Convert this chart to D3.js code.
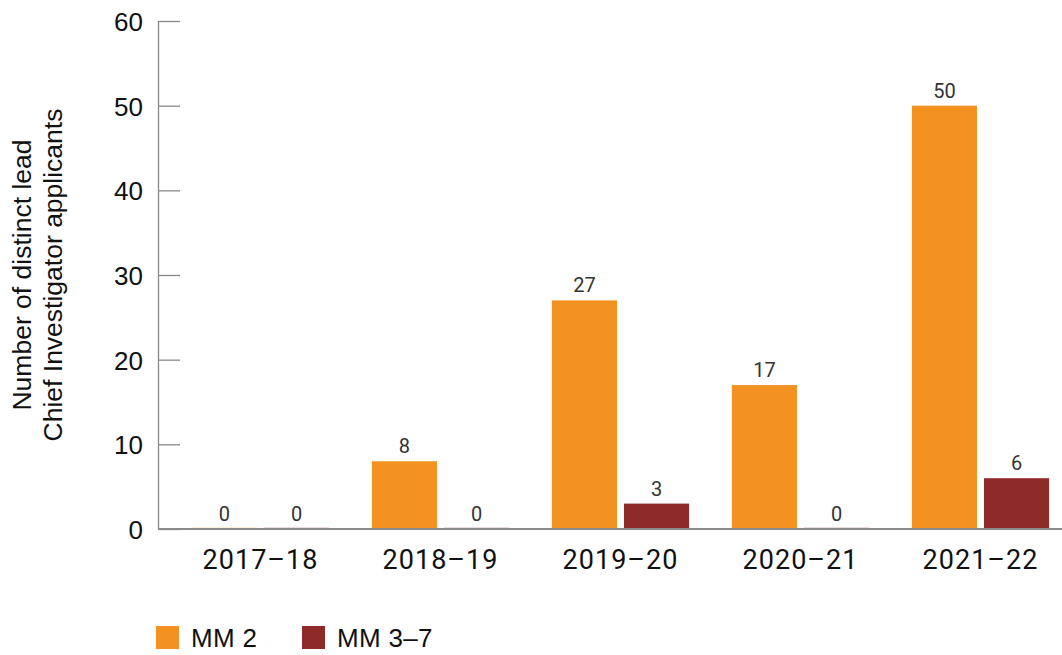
<!DOCTYPE html>
<html>
<head>
<meta charset="utf-8">
<script src="https://cdn.jsdelivr.net/npm/d3@7"></script>
<style>
  body { margin: 0; background: #fff; }
  svg { display: block; }
  .axis text { font-family: "Liberation Sans", Arial, sans-serif; font-size: 26px; fill: #111; }
  .cat { font-family: Roboto, "Liberation Sans", sans-serif; font-size: 27px; letter-spacing: 1px; fill: #111; }
  .val { font-family: Roboto, "Liberation Sans", sans-serif; font-size: 20px; fill: #333; }
  .legend text { font-family: "Liberation Sans", Arial, sans-serif; font-size: 26px; letter-spacing: 0.3px; fill: #111; }
  .ytitle { font-family: "Liberation Sans", Arial, sans-serif; font-size: 26.5px; fill: #111; }
</style>
</head>
<body>
<svg width="1062" height="655"></svg>
<script>
// data
var years = ["2017\u201318", "2018\u201319", "2019\u201320", "2020\u201321", "2021\u201322"];
var seriesNames = ["MM 2", "MM 3\u20137"];
var mm2 = [0, 8, 27, 17, 50];
var mm37 = [0, 0, 3, 0, 6];
var yTicks = [0, 10, 20, 30, 40, 50, 60];
var colors = ["#f39220", "#8e2a27"];

var svg = d3.select("svg"),
    width = 1062,
    height = 655;

var plotLeft = 158, plotBottom = 529, plotTop = 21;

var y = d3.scaleLinear().domain([0, 60]).range([plotBottom, plotTop]);

var x0 = d3.scaleBand()
    .domain(years)
    .range([170.5, 1070.5])
    .paddingInner(0.238)
    .paddingOuter(0.119);

var x1 = d3.scaleBand()
    .domain(seriesNames)
    .range([0, x0.bandwidth()])
    .paddingInner(0.097);

var rows = years.map(function(yr, i) {
  return { year: yr, values: [mm2[i], mm37[i]] };
});

// y axis
var yAxis = svg.append("g")
    .attr("class", "axis")
    .attr("transform", "translate(" + plotLeft + ",0)")
    .call(d3.axisLeft(y).tickValues(yTicks).tickSize(-22).tickSizeOuter(0).tickPadding(15));
yAxis.select(".domain").attr("stroke", "#888").attr("stroke-width", 1.3);
yAxis.selectAll(".tick line").attr("stroke", "#888").attr("stroke-width", 1.3);
yAxis.selectAll(".tick text").attr("dy", "0.36em");

// bars
var groups = svg.append("g").selectAll("g")
    .data(rows)
    .enter().append("g")
    .attr("transform", function(d) { return "translate(" + x0(d.year) + ",0)"; });

groups.selectAll("rect")
    .data(function(d) { return d.values.map(function(v, j) { return { key: seriesNames[j], value: v, idx: j }; }); })
    .enter().append("rect")
    .attr("x", function(d) { return x1(d.key); })
    .attr("width", x1.bandwidth())
    .attr("y", function(d) { return d.value > 0 ? y(d.value) : y(0) - 1.5; })
    .attr("height", function(d) { return d.value > 0 ? y(0) - y(d.value) : 1.5; })
    .attr("fill", function(d) { return colors[d.idx]; })
    .attr("opacity", function(d) { return d.value > 0 ? 1 : 0.35; });

groups.selectAll("text")
    .data(function(d) { return d.values.map(function(v, j) { return { key: seriesNames[j], value: v }; }); })
    .enter().append("text")
    .attr("class", "val")
    .attr("text-anchor", "middle")
    .attr("x", function(d) { return x1(d.key) + x1.bandwidth() / 2; })
    .attr("y", function(d) { return y(d.value) - 8; })
    .text(function(d) { return d.value; });

// x axis line
svg.append("line")
    .attr("x1", plotLeft).attr("x2", width)
    .attr("y1", y(0)).attr("y2", y(0))
    .attr("stroke", "#8a8a8a").attr("stroke-width", 2);

// category labels
svg.append("g").selectAll("text")
    .data(years)
    .enter().append("text")
    .attr("class", "cat")
    .attr("text-anchor", "middle")
    .attr("x", function(d) { return x0(d) + x0.bandwidth() / 2; })
    .attr("y", 569)
    .text(function(d) { return d; });

// y title
var yt = svg.append("text")
    .attr("class", "ytitle")
    .attr("text-anchor", "middle")
    .attr("transform", "translate(0,275) rotate(-90)");
yt.append("tspan").attr("x", 0).attr("y", 31).text("Number of distinct lead");
yt.append("tspan").attr("x", 0).attr("y", 62).text("Chief Investigator applicants");

// legend
var legendX = [156, 302];
var legend = svg.append("g").attr("class", "legend")
    .selectAll("g")
    .data(seriesNames)
    .enter().append("g")
    .attr("transform", function(d, i) { return "translate(" + legendX[i] + ",626)"; });
legend.append("rect")
    .attr("width", 23).attr("height", 23)
    .attr("fill", function(d, i) { return colors[i]; });
legend.append("text")
    .attr("x", 35)
    .attr("y", 21)
    .text(function(d) { return d; });
</script>
</body>
</html>
